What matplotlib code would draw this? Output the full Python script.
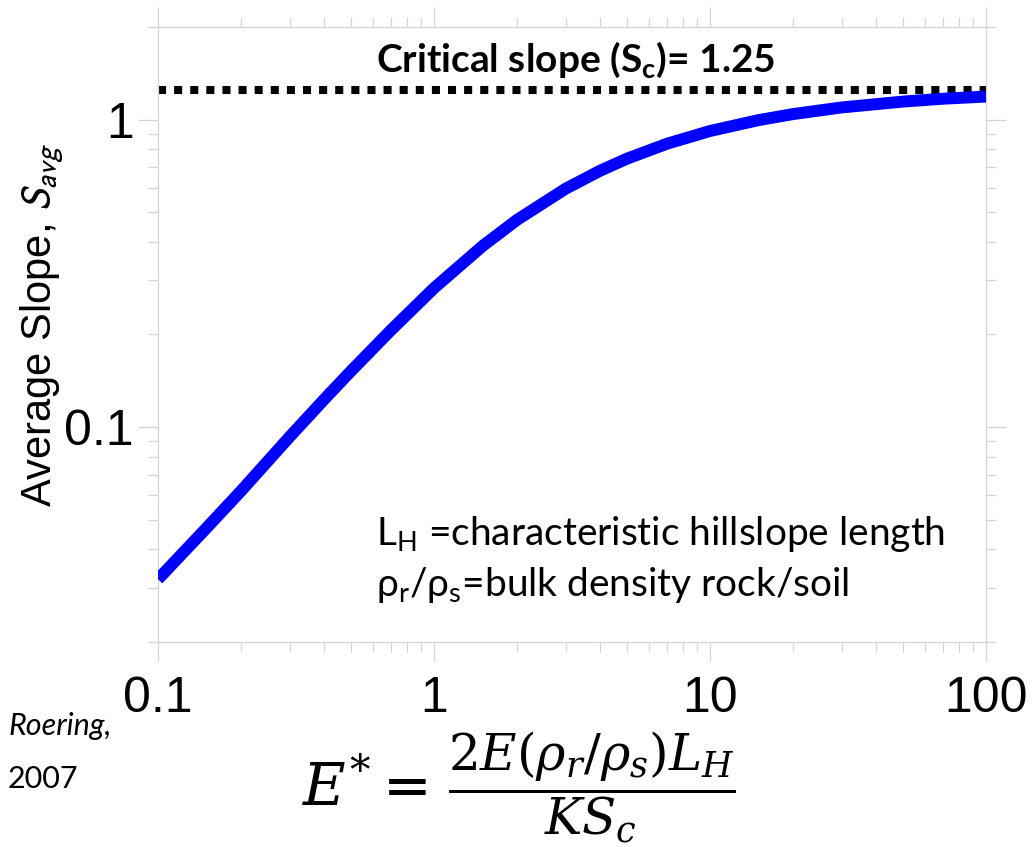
import matplotlib
matplotlib.use("Agg")
import matplotlib.pyplot as plt
from matplotlib.ticker import FixedLocator, FixedFormatter, LogLocator, NullFormatter

# dimensionless erosion rate E* vs. average hillslope gradient
e_star = [0.1, 0.15, 0.2, 0.3, 0.4, 0.5, 0.7, 1, 1.5, 2, 3, 4, 5, 7, 10, 15, 20, 30, 50, 70, 100]
s_avg = [0.032, 0.047, 0.062, 0.093, 0.123, 0.152, 0.207, 0.283, 0.388, 0.472, 0.596, 0.682,
         0.746, 0.835, 0.918, 0.996, 1.042, 1.095, 1.144, 1.169, 1.188]
s_crit = 1.25

x_ticks = [0.1, 1, 10, 100]
x_tick_labels = ["0.1", "1", "10", "100"]
y_ticks = [0.1, 1]
y_tick_labels = ["0.1", "1"]

plt.rcParams["mathtext.fontset"] = "custom"
plt.rcParams["mathtext.rm"] = "Lato"
plt.rcParams["mathtext.it"] = "Lato:italic"
plt.rcParams["mathtext.bf"] = "Lato:bold"

fig = plt.figure(figsize=(10.32, 8.47), dpi=100)
ax = fig.add_axes([158 / 1032, 1 - 642 / 847, 828 / 1032, 615 / 847])

ax.plot(e_star, s_avg, color="#0000ff", lw=8.6, solid_capstyle="butt", zorder=3)
ax.plot([x_ticks[0], x_ticks[-1]], [s_crit, s_crit], color="black", lw=5.8,
        linestyle=(0, (1, 1)), dash_capstyle="butt", zorder=2)

ax.set_xscale("log")
ax.set_yscale("log")
ax.set_xlim(0.1, 100)
ax.set_ylim(0.02, 2.0)

ax.xaxis.set_major_locator(FixedLocator(x_ticks))
ax.xaxis.set_major_formatter(FixedFormatter(x_tick_labels))
ax.yaxis.set_major_locator(FixedLocator(y_ticks))
ax.yaxis.set_major_formatter(FixedFormatter(y_tick_labels))
for axis in (ax.xaxis, ax.yaxis):
    axis.set_minor_locator(LogLocator(base=10, subs=range(2, 10)))
    axis.set_minor_formatter(NullFormatter())

grey = "#d4d4d4"
for sp in ax.spines.values():
    sp.set_color(grey)
    sp.set_linewidth(0.9)
ax.tick_params(which="both", direction="out", top=True, right=True,
               color=grey, width=0.9)
ax.tick_params(which="major", length=14.5, labelsize=36)
ax.tick_params(which="minor", length=7.2)
ax.tick_params(axis="x", which="major", pad=10)
ax.tick_params(axis="y", which="major", pad=3)
for lab in ax.get_xticklabels() + ax.get_yticklabels():
    lab.set_family("Liberation Sans")

fig.text(42 / 1032, 1 - 325 / 847, "Average Slope, $S_{avg}$", rotation=90,
         ha="center", va="center", fontsize=30, family="Liberation Sans",
         math_fontfamily="stixsans")

ax.text(0.505, 0.927, r"Critical slope (S$_\mathbf{c}$)= 1.25", transform=ax.transAxes,
        ha="center", va="baseline", fontsize=28, fontweight="bold", family="Lato")

ax.text(0.263, 0.158, r"L$_\mathrm{H}$ =characteristic hillslope length",
        transform=ax.transAxes, ha="left", va="baseline", fontsize=28, family="Lato")
ax.text(0.263, 0.075, r"ρ$_\mathrm{r}$/ρ$_\mathrm{s}$=bulk density rock/soil",
        transform=ax.transAxes, ha="left", va="baseline", fontsize=28, family="Lato")

fig.text(8 / 1032, 1 - 735 / 847, "Roering,", ha="left", va="baseline",
         fontsize=22, style="italic", family="Lato")
fig.text(8 / 1032, 1 - 788 / 847, "2007", ha="left", va="baseline",
         fontsize=22, family="Lato")

# E* definition below the x axis
fig.text(427 / 1032, 1 - 783 / 847, r"$E^{*} =$", ha="right", va="center_baseline",
         fontsize=42, math_fontfamily="dejavuserif")
fig.text(448 / 1032, 1 - 787 / 847, r"$\dfrac{2E(\rho_r/\rho_s)L_H}{KS_c}$",
         ha="left", va="center", fontsize=36, math_fontfamily="dejavuserif")

fig.savefig("out.png", dpi=100, facecolor="white")
